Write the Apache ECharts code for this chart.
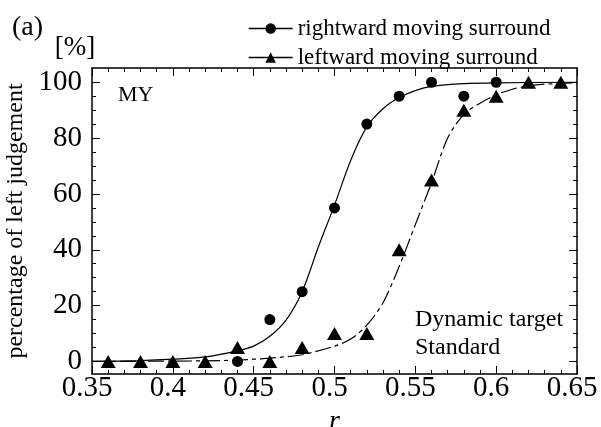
<!DOCTYPE html>
<html>
<head>
<meta charset="utf-8">
<script src="https://cdn.jsdelivr.net/npm/echarts@6/dist/echarts.min.js"></script>
<style>html,body{margin:0;padding:0;background:#fff;}#c{width:601px;height:427px;}</style>
</head>
<body>
<div id="c"></div>
<script>
// Data
const rightX = [0.44, 0.46, 0.48, 0.50, 0.52, 0.54, 0.56, 0.58, 0.60];
const rightY = [0, 15, 25, 55, 85, 95, 100, 95, 100];
const leftX = [0.36, 0.38, 0.40, 0.42, 0.44, 0.46, 0.48, 0.50, 0.52, 0.54, 0.56, 0.58, 0.60, 0.62, 0.64];
const leftY = [0, 0, 0, 0, 5, 0, 5, 10, 10, 40, 65, 90, 95, 100, 100];
// fitted curves
const fitRightX = [0.35, 0.38, 0.40, 0.42, 0.44, 0.45, 0.46, 0.47, 0.48, 0.49, 0.50, 0.51, 0.52, 0.53, 0.54, 0.55, 0.56, 0.58, 0.60, 0.65];
const fitRightY = [0, 0.3, 0.8, 1.6, 3.8, 5.5, 9, 14.8, 25, 41, 56, 72, 84, 90.5, 94.5, 97, 98.5, 99.5, 99.8, 100];
const fitLeftX = [0.35, 0.42, 0.44, 0.46, 0.48, 0.50, 0.51, 0.52, 0.53, 0.54, 0.55, 0.56, 0.57, 0.58, 0.59, 0.60, 0.61, 0.62, 0.63, 0.65];
const fitLeftY = [0, 0.2, 0.5, 1.2, 2.4, 5.5, 8, 13, 21, 34, 49, 64, 80, 88.5, 92.5, 95.5, 97.5, 98.7, 99.3, 99.8];
const yMajor = [0, 20, 40, 60, 80, 100];
const yMinor = [5, 10, 15, 25, 30, 35, 45, 50, 55, 65, 70, 75, 85, 90, 95];
const seriesNames = ['rightward moving surround', 'leftward moving surround'];

const FONT = 'Liberation Serif';
const pair = (xs, ys) => xs.map((x, i) => [x, ys[i]]);
const chart = echarts.init(document.getElementById('c'), null, {renderer: 'canvas'});

const YMIN = -4.5, YMAX = 105.1;
const gridBox = () => ({left: 92, right: 24, top: 68, bottom: 53, outerBoundsMode: 'none'});
const lineOn = () => ({show: true, onZero: false, lineStyle: {color: '#000', width: 1.5}});
const lineOff = () => ({show: false, onZero: false});
const tickStyle = () => ({color: '#000', width: 1});
const xTicked = (g, pos) => ({type: 'value', gridIndex: g, position: pos, min: 0.35, max: 0.65, interval: 0.05,
  axisLine: lineOn(),
  axisTick: {show: true, inside: true, length: 8, lineStyle: tickStyle()},
  minorTick: {show: true, splitNumber: 5, length: 4, lineStyle: tickStyle()},
  splitLine: {show: false}, axisLabel: {show: false}});
const xHidden = g => ({type: 'value', gridIndex: g, min: 0.35, max: 0.65, interval: 0.05,
  axisLine: lineOff(), axisTick: {show: false}, axisLabel: {show: false}, splitLine: {show: false}});
const yTicked = (g, pos, vals, len, showLine) => ({type: 'value', gridIndex: g, position: pos, min: YMIN, max: YMAX,
  axisLine: showLine ? lineOn() : lineOff(),
  axisTick: {show: true, inside: true, length: len, customValues: vals, lineStyle: tickStyle()},
  splitLine: {show: false}, axisLabel: {show: false}});

const x0 = xTicked(0, 'bottom');
Object.assign(x0, {
  axisLabel: {show: true, fontFamily: FONT, fontSize: 29, color: '#000', margin: 0, padding: [0, 10, 0, 0],
              formatter: v => String(+v.toFixed(2))},
  name: 'r', nameLocation: 'middle', nameGap: 20,
  nameTextStyle: {fontFamily: FONT, fontSize: 28, fontStyle: 'italic', color: '#000'}});
const y0 = yTicked(0, 'left', yMajor, 8, true);
Object.assign(y0, {
  axisLabel: {show: true, customValues: yMajor, fontFamily: FONT, fontSize: 29, color: '#000', margin: 10, padding: [0, 0, 10, 0]},
  name: 'percentage of left judgement', nameLocation: 'middle', nameGap: 64, nameRotate: 90,
  nameTextStyle: {fontFamily: FONT, fontSize: 24, color: '#000'}});

const option = {
  animation: false,
  backgroundColor: '#fff',
  grid: [gridBox(), gridBox(), gridBox(), gridBox()],
  legend: {
    orient: 'vertical', left: 243, top: 12, itemWidth: 44, itemHeight: 13, itemGap: 6,
    data: seriesNames,
    textStyle: {fontFamily: FONT, fontSize: 23, color: '#000', lineHeight: 23},
    lineStyle: {type: 'solid', width: 1.3, color: '#000'}
  },
  xAxis: [x0, xTicked(1, 'top'), xHidden(2), xHidden(3)],
  yAxis: [y0, yTicked(1, 'right', yMajor, 8, true), yTicked(2, 'left', yMinor, 4, false), yTicked(3, 'right', yMinor, 4, false)],
  series: [
    {name: seriesNames[0], type: 'line', xAxisIndex: 0, yAxisIndex: 0, data: pair(fitRightX, fitRightY), smooth: 0.3,
     symbol: 'circle', showSymbol: false, lineStyle: {color: '#000', width: 1.2}, itemStyle: {color: '#000'}, z: 2},
    {name: seriesNames[1], type: 'line', xAxisIndex: 0, yAxisIndex: 0, data: pair(fitLeftX, fitLeftY), smooth: 0.3,
     symbol: 'triangle', showSymbol: false, lineStyle: {color: '#000', width: 1.2, type: [16, 4, 4, 4]}, itemStyle: {color: '#000'}, z: 2},
    {name: 'rightPts', type: 'scatter', xAxisIndex: 0, yAxisIndex: 0, data: pair(rightX, rightY), symbol: 'circle', symbolSize: 11,
     itemStyle: {color: '#000', opacity: 1}, z: 4},
    {name: 'leftPts', type: 'scatter', xAxisIndex: 0, yAxisIndex: 0, data: pair(leftX, leftY), symbol: 'triangle', symbolSize: [15, 13],
     itemStyle: {color: '#000', opacity: 1}, z: 5}
  ],
  graphic: [
    {type: 'text', style: {x: 12, y: 28, text: '(a)', font: '28px "Liberation Serif"', fill: '#000', verticalAlign: 'middle'}},
    {type: 'text', style: {x: 75, y: 48, text: '[%]', font: '27px "Liberation Serif"', fill: '#000', align: 'center', verticalAlign: 'middle'}},
    {type: 'text', style: {x: 118, y: 95, text: 'MY', font: '22px "Liberation Serif"', fill: '#000', verticalAlign: 'middle'}},
    {type: 'text', style: {x: 415, y: 320, text: 'Dynamic target', font: '24px "Liberation Serif"', fill: '#000', verticalAlign: 'middle'}},
    {type: 'text', style: {x: 415, y: 348, text: 'Standard', font: '24px "Liberation Serif"', fill: '#000', verticalAlign: 'middle'}}
  ]
};
chart.setOption(option);
</script>
</body>
</html>
